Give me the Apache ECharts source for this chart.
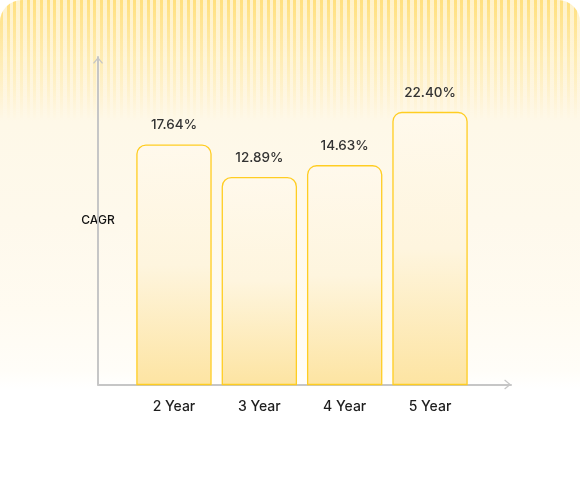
<!DOCTYPE html>
<html>
<head>
<meta charset="utf-8">
<script src="https://cdn.jsdelivr.net/npm/echarts@6/dist/echarts.min.js"></script>
<style>
  html, body { margin:0; padding:0; background:#ffffff; }
  #card {
    position:relative; width:580px; height:502px; overflow:hidden;
    border-radius:22px 22px 0 0;
    background: linear-gradient(to bottom, #FFF6DA 0%, #FEF8E8 25%, #FEF9EC 44%, #FFFBF1 62%, #FFFDF8 74%, #FFFFFF 77.5%, #FFFFFF 100%);
  }
  #stripes {
    position:absolute; left:0; top:0; width:580px; height:120px;
    background: repeating-linear-gradient(90deg,
      rgba(255,216,95,0.75) 0px, rgba(255,216,95,0.75) 3px,
      rgba(255,232,160,0.25) 3px, rgba(255,232,160,0.25) 6.67px);
    -webkit-mask-image: linear-gradient(to bottom, rgba(0,0,0,1) 0%, rgba(0,0,0,0.5) 45%, rgba(0,0,0,0) 100%);
    mask-image: linear-gradient(to bottom, rgba(0,0,0,1) 0%, rgba(0,0,0,0.5) 45%, rgba(0,0,0,0) 100%);
  }
  #chart { position:absolute; left:0; top:0; width:580px; height:502px; }
</style>
</head>
<body>
<div id="card">
  <div id="stripes"></div>
  <div id="chart"></div>
</div>
<script>
// ---- data ----
const categories = ['2 Year', '3 Year', '4 Year', '5 Year'];
const cagrValues = [17.64, 12.89, 14.63, 22.40];
const axisName = 'CAGR';

// ---- value scale (hidden axis) ----
const Y_MIN = -17.3;
const Y_MAX = 30.5;

const CHEVRON = 'path://M0,6 L5,0 L10,6 L9,6.8 L5,1.9 L1,6.8 Z';
const AXIS_COLOR = '#C6C6C6';
const FONT = 'Inter, "Noto Sans", sans-serif';

const chart = echarts.init(document.getElementById('chart'), null, { renderer: 'canvas' });

function renderItem(params, api) {
  const idx = api.value(0);
  const v = api.value(1);
  const top = api.coord([idx, v]);
  const base = api.coord([idx, Y_MIN]);
  const band = api.size([1, 0])[0];
  const w = band * 0.868;
  return {
    type: 'group',
    children: [
      {
        type: 'rect',
        shape: { x: top[0] - w / 2, y: top[1], width: w, height: base[1] - top[1], r: [9, 9, 0, 0] },
        style: {
          fill: new echarts.graphic.LinearGradient(0, 0, 0, 1, [
            { offset: 0, color: '#FFF9EC' },
            { offset: 0.5, color: '#FEF5DE' },
            { offset: 1, color: '#FDE4A2' }
          ]),
          stroke: '#FFCD22',
          lineWidth: 1.3
        }
      },
      {
        type: 'text',
        style: {
          text: v.toFixed(2) + '%',
          x: top[0],
          y: top[1] - 13,
          align: 'center',
          verticalAlign: 'bottom',
          fontSize: 13.5,
          fontWeight: 500,
          fontFamily: FONT,
          fill: '#333333'
        }
      }
    ]
  };
}

const option = {
  backgroundColor: 'transparent',
  animation: false,
  grid: [
    { left: 98, right: 69, top: 57, bottom: 117.5 },
    { left: 131.3, right: 107.3, top: 57, bottom: 117.5 }
  ],
  xAxis: [
    {
      gridIndex: 0, type: 'value', min: 0, max: 1,
      axisLine: {
        show: true, onZero: false,
        symbol: ['none', CHEVRON], symbolSize: [10, 6.8], symbolOffset: [0, -3.4],
        lineStyle: { color: AXIS_COLOR, width: 2 }
      },
      axisTick: { show: false }, axisLabel: { show: false }, splitLine: { show: false }
    },
    {
      gridIndex: 1, type: 'category', data: categories,
      axisLine: { show: false }, axisTick: { show: false }, splitLine: { show: false },
      axisLabel: { margin: 15, fontSize: 14, fontWeight: 500, color: '#1E1E1E', fontFamily: FONT }
    }
  ],
  yAxis: [
    {
      gridIndex: 0, type: 'value', min: 0, max: 1,
      name: axisName, nameLocation: 'middle', nameGap: 0, nameRotate: 0,
      nameTextStyle: {
        align: 'center', verticalAlign: 'middle',
        fontSize: 12, fontWeight: 500, color: '#111111', fontFamily: FONT,
        backgroundColor: '#FEF9EC', padding: [6, 3]
      },
      axisLine: {
        show: true, onZero: false,
        symbol: ['none', CHEVRON], symbolSize: [10, 6.8], symbolOffset: [0, -3.4],
        lineStyle: { color: AXIS_COLOR, width: 2 }
      },
      axisTick: { show: false }, axisLabel: { show: false }, splitLine: { show: false }
    },
    {
      gridIndex: 1, type: 'value', min: Y_MIN, max: Y_MAX, show: false,
      splitLine: { show: false }
    }
  ],
  series: [
    { type: 'line', xAxisIndex: 0, yAxisIndex: 0, data: [], silent: true },
    {
      type: 'custom', xAxisIndex: 1, yAxisIndex: 1,
      data: cagrValues.map((v, i) => [i, v]),
      encode: { x: 0, y: 1 },
      renderItem: renderItem,
      clip: false,
      z: 1
    }
  ]
};
chart.setOption(option);
</script>
</body>
</html>
